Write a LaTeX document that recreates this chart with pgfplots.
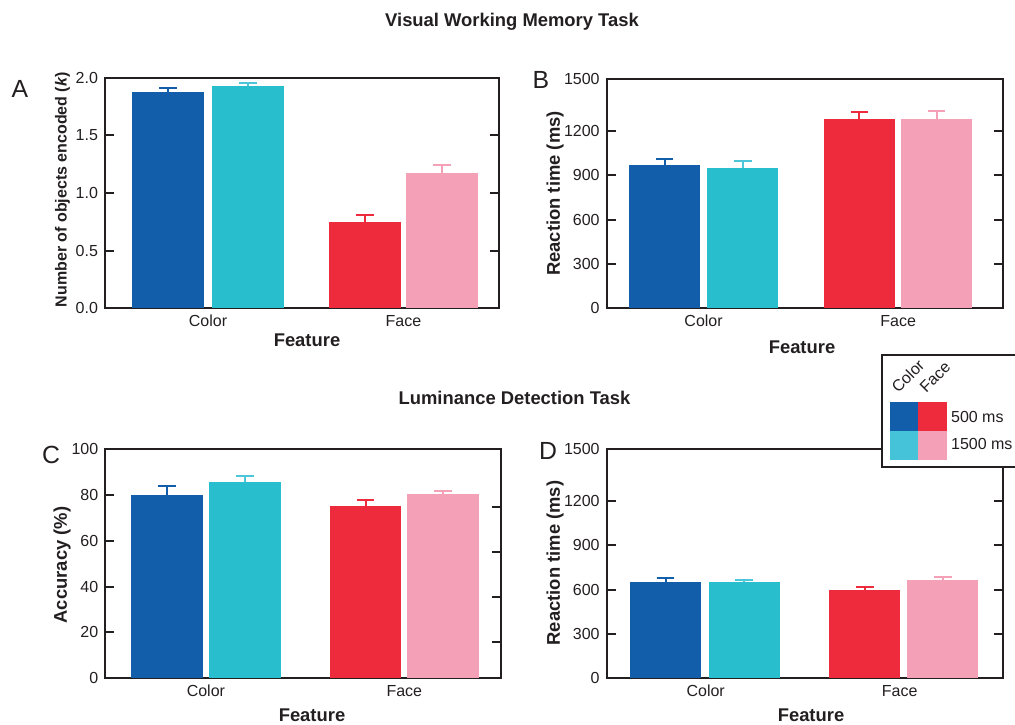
\documentclass[border=0pt]{standalone}
\usepackage{pgfplots}
\pgfplotsset{compat=1.18}
\usepackage{fontspec}
\setmainfont{Liberation Sans}
\definecolor{txt}{HTML}{231F20}
\definecolor{cblue}{HTML}{135EAA}
\definecolor{ccyan}{HTML}{29BECD}
\definecolor{ccyanE}{HTML}{4CC6D8}
\definecolor{cred}{HTML}{EE2B3D}
\definecolor{cpink}{HTML}{F4A0B6}
\definecolor{clegcyan}{HTML}{45C4D9}
\newcommand{\tk}{\fontsize{8}{9.6}\selectfont}
\newcommand{\lb}{\fontsize{9.2}{11}\selectfont\bfseries}
\newcommand{\lt}{\fontsize{12.4}{14}\selectfont}
\pgfplotsset{
  panel/.style={scale only axis, anchor=south west, xmin=0, ymin=0, clip=false,
    axis line style={line width=1pt, txt},
    every tick/.style={line width=1pt, txt},
    major tick length=4.5pt,
    tick align=inside,
    xtick pos=bottom, ytick pos=both,
    xtick style={draw=none},
    ticklabel style={font=\tk, text=txt},
    /pgf/number format/assume math mode=true},
  mybar/.style 2 args={ybar, bar shift=0pt, fill=#1, draw=none,
    error bars/y dir=plus, error bars/y explicit,
    error bars/error bar style={draw=#2, line width=1pt},
    error bars/error mark options={draw=#2, line width=1pt, mark size=4.4pt, rotate=90}}
}
\begin{document}
\begin{tikzpicture}
\useasboundingbox (0,0) rectangle (507.5pt,362pt);
\clip (0,0) rectangle (507.5pt,362pt);

% ---------- Panel A ----------
\begin{axis}[panel, at={(52.5pt,208pt)}, width=197pt, height=115pt,
  xmax=394, ymax=2,
  ytick={0,0.5,1,1.5,2}, yticklabels={0.0,0.5,1.0,1.5,2.0},
  xtick={103,298.5}, xticklabels={Color,Face}]
\addplot[mybar={cblue}{cblue}, bar width=72] coordinates {(63,1.875) +- (0,0.035)};
\addplot[mybar={ccyan}{ccyanE}, bar width=72] coordinates {(143,1.927) +- (0,0.029)};
\addplot[mybar={cred}{cred}, bar width=72] coordinates {(260,0.747) +- (0,0.064)};
\addplot[mybar={cpink}{cpink}, bar width=72] coordinates {(337,1.172) +- (0,0.069)};
\end{axis}

% ---------- Panel B ----------
\begin{axis}[panel, at={(303.35pt,207.85pt)}, width=198pt, height=114.65pt,
  xmax=396, ymax=1552,
  ytick={0,300,600,900,1200,1552}, yticklabels={0,300,600,900,1200,1500},
  xtick={96.9,291.5}, xticklabels={Color,Face}]
\addplot[mybar={cblue}{cblue}, bar width=71] coordinates {(57.8,968) +- (0,40)};
\addplot[mybar={ccyan}{ccyanE}, bar width=71] coordinates {(136,947) +- (0,50)};
\addplot[mybar={cred}{cred}, bar width=71] coordinates {(252.7,1279) +- (0,50)};
\addplot[mybar={cpink}{cpink}, bar width=71] coordinates {(329.8,1279) +- (0,56)};
\end{axis}

% ---------- Panel C ----------
\begin{axis}[panel, at={(52.65pt,22.85pt)}, width=197.7pt, height=114.65pt,
  xmax=395.4, ymax=100, ytick pos=left,
  ytick={0,20,40,60,80,100}, yticklabels={0,20,40,60,80,100},
  xtick={100.6,299}, xticklabels={Color,Face}]
\addplot[mybar={cblue}{cblue}, bar width=71.8] coordinates {(61.4,79.9) +- (0,4.0)};
\addplot[mybar={ccyan}{ccyanE}, bar width=71.8] coordinates {(139.9,85.5) +- (0,2.7)};
\addplot[mybar={cred}{cred}, bar width=71.8] coordinates {(260.2,75.3) +- (0,2.4)};
\addplot[mybar={cpink}{cpink}, bar width=71.8] coordinates {(337.9,80.3) +- (0,1.3)};
\end{axis}
\begin{axis}[panel, at={(52.65pt,22.85pt)}, width=197.7pt, height=114.65pt,
  xmax=395.4, ymax=100, axis line style={draw=none},
  ytick pos=right, ytick={15.7,35.6,55.2,74.9}, yticklabels={},
  xtick=\empty]
\end{axis}

% ---------- Panel D ----------
\begin{axis}[panel, at={(303.35pt,22.85pt)}, width=198.3pt, height=114.65pt,
  xmax=396.6, ymax=1552,
  ytick={0,300,600,900,1200,1552}, yticklabels={0,300,600,900,1200,1500},
  xtick={99,293}, xticklabels={Color,Face}]
\addplot[mybar={cblue}{cblue}, bar width=71] coordinates {(58.8,654) +- (0,23)};
\addplot[mybar={ccyan}{ccyanE}, bar width=71] coordinates {(137.3,654) +- (0,14)};
\addplot[mybar={cred}{cred}, bar width=71] coordinates {(258,595) +- (0,25)};
\addplot[mybar={cpink}{cpink}, bar width=71] coordinates {(336,665) +- (0,18)};
\end{axis}

% ---------- Text ----------
\node[text=txt, font=\lb] at (256pt,351pt) {Visual Working Memory Task};
\node[text=txt, font=\lb] at (257.25pt,163pt) {Luminance Detection Task};
\node[text=txt, font=\lt, inner sep=0pt] at (10pt,317.5pt) {A};
\node[text=txt, font=\lt, inner sep=0pt] at (270.5pt,322pt) {B};
\node[text=txt, font=\lt, inner sep=0pt] at (25.5pt,134.5pt) {C};
\node[text=txt, font=\lt, inner sep=0pt] at (274pt,136.5pt) {D};
\node[text=txt, font={\fontsize{8}{9.6}\selectfont\bfseries}, rotate=90, inner sep=0pt] at (31.25pt,267.25pt) {Number of objects encoded (\textit{k})};
\node[text=txt, font=\lb, rotate=90, inner sep=0pt] at (277.5pt,265.25pt) {Reaction time (ms)};
\node[text=txt, font=\lb, rotate=90, inner sep=0pt] at (31pt,79.5pt) {Accuracy (\%)};
\node[text=txt, font=\lb, rotate=90, inner sep=0pt] at (277.5pt,80.5pt) {Reaction time (ms)};
\node[text=txt, font=\lb, inner sep=0pt] at (153.5pt,192pt) {Feature};
\node[text=txt, font=\lb, inner sep=0pt] at (401pt,188.5pt) {Feature};
\node[text=txt, font=\lb, inner sep=0pt] at (156pt,4.6pt) {Feature};
\node[text=txt, font=\lb, inner sep=0pt] at (405.5pt,4.6pt) {Feature};

% ---------- Legend ----------
\draw[line width=1pt, txt, fill=white] (441pt,128.5pt) rectangle (516pt,184.5pt);
\fill[cblue] (445pt,146.65pt) rectangle (459.15pt,161.15pt);
\fill[cred] (459.15pt,146.65pt) rectangle (473.65pt,161.15pt);
\fill[clegcyan] (445pt,132pt) rectangle (459.15pt,146.65pt);
\fill[cpink] (459.15pt,132pt) rectangle (473.65pt,146.65pt);
\node[text=txt, font=\tk, anchor=west, inner sep=0pt] at (475.35pt,153.65pt) {500 ms};
\node[text=txt, font=\tk, anchor=west, inner sep=0pt] at (475.35pt,140pt) {1500 ms};
\node[text=txt, font=\tk, anchor=base west, rotate=45, inner sep=0pt] at (449pt,165pt) {Color};
\node[text=txt, font=\tk, anchor=base west, rotate=45, inner sep=0pt] at (463pt,165pt) {Face};
\end{tikzpicture}
\end{document}
